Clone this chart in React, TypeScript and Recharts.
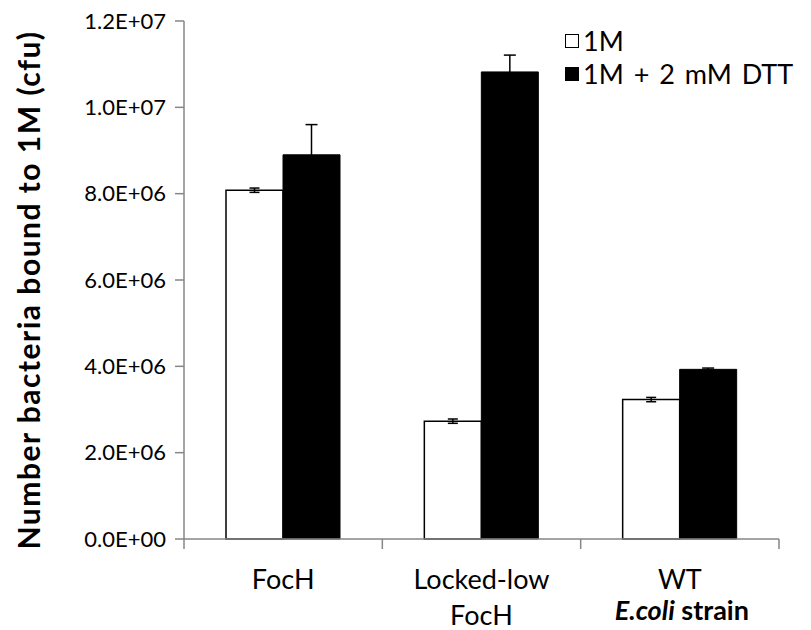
import React from 'react';
import { BarChart, Bar, XAxis, YAxis, ErrorBar } from 'recharts';

const categories = ['FocH', 'Locked-low\nFocH', 'WT'];
const values1M = [8.08e6, 2.73e6, 3.23e6];
const errors1M = [0.05e6, 0.05e6, 0.05e6];
const valuesDTT = [8.9e6, 1.082e7, 3.93e6];
const errorsDTT = [0.7e6, 0.39e6, 0.03e6];
const yTicks = [0, 2e6, 4e6, 6e6, 8e6, 1e7, 1.2e7];
const seriesNames = ['1M', '1M + 2 mM DTT'];
const yTitle = 'Number bacteria bound to 1M (cfu)';

const data = categories.map((c, i) => ({
  name: c,
  m1: values1M[i],
  e1: errors1M[i],
  dtt: valuesDTT[i],
  e2: errorsDTT[i],
}));

const W = 811;
const H = 630;
const LEFT = 184;
const RIGHT = 32;
const TOP = 21;
const BOTTOM = 91;
const XAXIS_H = 60;
const PLOT_W = W - LEFT - RIGHT;
const AXIS = '#868686';
const FONT = 'Lato, "Open Sans", sans-serif';

const fmt = (v: number) => {
  if (v === 0) return '0.0E+00';
  const e = Math.floor(Math.log10(v));
  const m = v / Math.pow(10, e);
  return `${m.toFixed(1)}E+${String(e).padStart(2, '0')}`;
};

const XTick = (props: any) => {
  const { x, payload, index } = props;
  const bw = PLOT_W / categories.length;
  const lines = String(payload.value).split('\n');
  const axisY = H - BOTTOM;
  return (
    <g>
      <line x1={x - bw / 2} x2={x - bw / 2} y1={axisY} y2={axisY + 10} stroke={AXIS} strokeWidth={1.5} />
      {index === categories.length - 1 && (
        <line x1={x + bw / 2} x2={x + bw / 2} y1={axisY} y2={axisY + 10} stroke={AXIS} strokeWidth={1.5} />
      )}
      <text x={x} y={axisY + 50} textAnchor="middle" fontSize={27} fontFamily={FONT} fill="#000">
        {lines.map((l, i) => (
          <tspan key={i} x={x} dy={i === 0 ? 0 : 36}>{l}</tspan>
        ))}
      </text>
    </g>
  );
};

const XTitle = (props: any) => {
  const vb = props.viewBox || { x: LEFT, width: PLOT_W };
  const x = (vb.x ?? LEFT) + ((vb.width ?? PLOT_W) * 5) / 6 + 2;
  return (
    <text x={x} y={620} textAnchor="middle" fontSize={27} fontFamily={FONT} fontWeight="bold" fill="#000">
      <tspan fontStyle="italic">E.coli</tspan>
      <tspan> strain</tspan>
    </text>
  );
};

const YTitle = () => {
  const cx = 40;
  const cy = 290;
  return (
    <text
      x={cx}
      y={cy}
      transform={`rotate(-90 ${cx} ${cy})`}
      textAnchor="middle"
      fontSize={30}
      letterSpacing={1.5}
      fontWeight="bold"
      fontFamily={FONT}
      fill="#000"
    >
      {yTitle}
    </text>
  );
};

const LegendBox = () => (
  <div
    style={{
      position: 'absolute',
      left: 565,
      top: 24,
      fontFamily: FONT,
      fontSize: 27,
      wordSpacing: 3,
      color: '#000',
      lineHeight: '33px',
      whiteSpace: 'nowrap',
    }}
  >
    {seriesNames.map((n, i) => (
      <div key={n} style={{ display: 'flex', alignItems: 'center' }}>
        <span
          style={{
            display: 'inline-block',
            width: 12,
            height: 12,
            border: '1.5px solid #000',
            background: i === 0 ? '#fff' : '#000',
            marginRight: 4,
          }}
        />
        <span>{n}</span>
      </div>
    ))}
  </div>
);

export default function App() {
  return (
    <div style={{ position: 'absolute', left: 0, top: 0, width: W, height: H, background: '#fff' }}>
      <BarChart
        width={W}
        height={H}
        data={data}
        margin={{ top: TOP, right: RIGHT, bottom: BOTTOM - XAXIS_H, left: 0 }}
        barGap={0}
        barSize={57}
      >
        <XAxis
          dataKey="name"
          axisLine={{ stroke: AXIS, strokeWidth: 1.5 }}
          tickLine={false}
          tickSize={0}
          tick={<XTick />}
          interval={0}
          height={XAXIS_H}
          label={<XTitle />}
        />
        <YAxis
          width={LEFT}
          domain={[0, 1.2e7]}
          ticks={yTicks}
          tickFormatter={fmt}
          axisLine={{ stroke: AXIS, strokeWidth: 1.5 }}
          tickLine={{ stroke: AXIS, strokeWidth: 1.5 }}
          tickSize={9}
          tickMargin={9}
          tick={{ fill: '#000', fontSize: 22, fontFamily: FONT }}
          label={<YTitle />}
        />
        <Bar dataKey="m1" name={seriesNames[0]} fill="#fff" stroke="#000" strokeWidth={1.5} isAnimationActive={false}>
          <ErrorBar dataKey="e1" width={5} stroke="#000" strokeWidth={1.5} />
        </Bar>
        <Bar dataKey="dtt" name={seriesNames[1]} fill="#000" stroke="#000" strokeWidth={1} isAnimationActive={false}>
          <ErrorBar dataKey="e2" width={6} stroke="#000" strokeWidth={1.5} />
        </Bar>
      </BarChart>
      <LegendBox />
    </div>
  );
}
